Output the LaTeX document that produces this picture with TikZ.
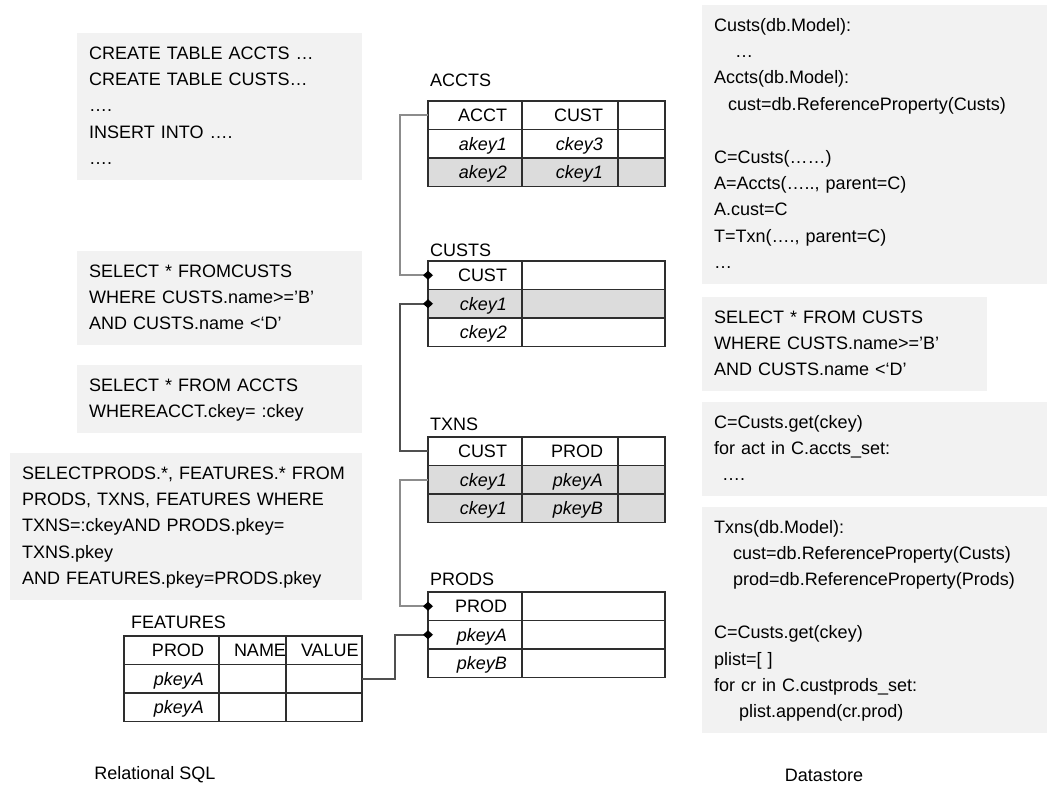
\documentclass[tikz,border=0pt]{standalone}
\usepackage{fontspec}
\setmainfont{Liberation Sans}
\usepackage{tikz}
\usetikzlibrary{positioning, arrows.meta}
\definecolor{boxgray}{HTML}{F2F2F2}
\definecolor{rowgray}{HTML}{DCDCDC}
\definecolor{gridline}{HTML}{2E2E2E}
\definecolor{linklight}{HTML}{8C8C8C}
\definecolor{linkdark}{HTML}{505050}

\begin{document}
\begin{tikzpicture}[
        x=1pt, y=-1pt,
        code/.style={fill=boxgray, anchor=north west, align=left, inner xsep=12pt, inner ysep=7.5pt,
          font=\fontsize{18}{26.4}\selectfont, execute at begin node=\strut, execute at end node=\strut},
        cell/.style={draw=gridline, line width=1.6pt, anchor=north west, outer sep=0pt, minimum height=28.5pt,
          inner xsep=15pt, inner ysep=0pt, align=right, text height=13pt, text depth=0pt,
          font=\fontsize{18}{21}\selectfont},
        cellw/.style 2 args={minimum width=#1pt, text width=#2pt},
        keyval/.style={font=\fontsize{18}{21}\selectfont\itshape},
        shaded/.style={fill=rowgray},
        tabtitle/.style={inner sep=0pt, anchor=south west, font=\fontsize{18}{21}\selectfont},
        link/.style={line width=1.6pt, linklight},
        darklink/.style={line width=1.6pt, linkdark},
        diamondend/.style={-{Diamond[length=10pt,width=9pt,color=black]}, shorten >=-5pt},
        diamondstart/.style={{Diamond[length=10pt,width=9pt,color=black]}-, shorten <=-5pt},
      ]
      \useasboundingbox (0,0) rectangle (1047,786);

      % relational side
      \node[code, text width=261pt] (sql-create) at (77,33) {CREATE TABLE ACCTS …\\
        CREATE TABLE CUSTS…\\ ….\\ INSERT INTO ….\\ ….};
      \node[code, text width=261pt] (sql-range) at (77,251) {SELECT * FROMCUSTS\\
        WHERE CUSTS.name>='B'\\ AND CUSTS.name <`D'};
      \node[code, text width=261pt] (sql-accts) at (77,365) {SELECT * FROM ACCTS\\
        WHEREACCT.ckey= :ckey};
      \node[code, text width=328pt] (sql-join) at (10,453) {SELECTPRODS.*, FEATURES.* FROM\\
        PRODS, TXNS, FEATURES WHERE\\ TXNS=:ckeyAND PRODS.pkey=\\ TXNS.pkey\\
        AND FEATURES.pkey=PRODS.pkey};

      % datastore side
      \node[code, text width=321pt] (ds-model) at (702,5) {Custs(db.Model):\\
        \hspace*{21pt}…\\ Accts(db.Model):\\ \hspace*{14pt}cust=db.ReferenceProperty(Custs)\\ \strut\\
        C=Custs(……)\\ A=Accts(….., parent=C)\\ A.cust=C\\ T=Txn(…., parent=C)\\ …};
      \node[code, text width=261pt] (ds-range) at (702,297) {SELECT * FROM CUSTS\\
        WHERE CUSTS.name>='B'\\ AND CUSTS.name <`D'};
      \node[code, text width=321pt] (ds-accts) at (702,402) {C=Custs.get(ckey)\\
        for act in C.accts\_set:\\ \hspace*{8pt}….};
      \node[code, text width=321pt] (ds-txns) at (702,507) {Txns(db.Model):\\
        \hspace*{19pt}cust=db.ReferenceProperty(Custs)\\ \hspace*{19pt}prod=db.ReferenceProperty(Prods)\\ \strut\\
        C=Custs.get(ckey)\\ plist=[ ]\\ for cr in C.custprods\_set:\\ \hspace*{25pt}plist.append(cr.prod)};

      % ACCTS
      \node[cell, cellw={94}{64}] (accts-h1) at (428,101) {ACCT};
      \node[cell, cellw={96}{66}] (accts-h2) at (accts-h1.north east) {CUST};
      \node[cell, cellw={47}{17}] (accts-h3) at (accts-h2.north east) {};
      \node[cell, cellw={94}{64}, keyval] (accts-r1c1) at (accts-h1.south west) {akey1};
      \node[cell, cellw={96}{66}, keyval] (accts-r1c2) at (accts-r1c1.north east) {ckey3};
      \node[cell, cellw={47}{17}] (accts-r1c3) at (accts-r1c2.north east) {};
      \node[cell, cellw={94}{64}, keyval, shaded] (accts-r2c1) at (accts-r1c1.south west) {akey2};
      \node[cell, cellw={96}{66}, keyval, shaded] (accts-r2c2) at (accts-r2c1.north east) {ckey1};
      \node[cell, cellw={47}{17}, shaded] (accts-r2c3) at (accts-r2c2.north east) {};
      \node[tabtitle, above right=14pt and 2pt of accts-h1.north west] (accts-title) {ACCTS};

      % CUSTS
      \node[cell, cellw={94}{64}] (custs-h1) at (428,261) {CUST};
      \node[cell, cellw={143}{113}] (custs-h2) at (custs-h1.north east) {};
      \node[cell, cellw={94}{64}, keyval, shaded] (custs-r1c1) at (custs-h1.south west) {ckey1};
      \node[cell, cellw={143}{113}, shaded] (custs-r1c2) at (custs-r1c1.north east) {};
      \node[cell, cellw={94}{64}, keyval] (custs-r2c1) at (custs-r1c1.south west) {ckey2};
      \node[cell, cellw={143}{113}] (custs-r2c2) at (custs-r2c1.north east) {};
      \node[tabtitle, above right=4pt and 2pt of custs-h1.north west] (custs-title) {CUSTS};

      % TXNS
      \node[cell, cellw={94}{64}] (txns-h1) at (428,437) {CUST};
      \node[cell, cellw={96}{66}] (txns-h2) at (txns-h1.north east) {PROD};
      \node[cell, cellw={47}{17}] (txns-h3) at (txns-h2.north east) {};
      \node[cell, cellw={94}{64}, keyval, shaded] (txns-r1c1) at (txns-h1.south west) {ckey1};
      \node[cell, cellw={96}{66}, keyval, shaded] (txns-r1c2) at (txns-r1c1.north east) {pkeyA};
      \node[cell, cellw={47}{17}, shaded] (txns-r1c3) at (txns-r1c2.north east) {};
      \node[cell, cellw={94}{64}, keyval, shaded] (txns-r2c1) at (txns-r1c1.south west) {ckey1};
      \node[cell, cellw={96}{66}, keyval, shaded] (txns-r2c2) at (txns-r2c1.north east) {pkeyB};
      \node[cell, cellw={47}{17}, shaded] (txns-r2c3) at (txns-r2c2.north east) {};
      \node[tabtitle, above right=6pt and 2pt of txns-h1.north west] (txns-title) {TXNS};

      % PRODS
      \node[cell, cellw={94}{64}] (prods-h1) at (428,592) {PROD};
      \node[cell, cellw={143}{113}] (prods-h2) at (prods-h1.north east) {};
      \node[cell, cellw={94}{64}, keyval] (prods-r1c1) at (prods-h1.south west) {pkeyA};
      \node[cell, cellw={143}{113}] (prods-r1c2) at (prods-r1c1.north east) {};
      \node[cell, cellw={94}{64}, keyval] (prods-r2c1) at (prods-r1c1.south west) {pkeyB};
      \node[cell, cellw={143}{113}] (prods-r2c2) at (prods-r2c1.north east) {};
      \node[tabtitle, above right=6pt and 2pt of prods-h1.north west] (prods-title) {PRODS};

      % FEATURES
      \node[cell, cellw={95}{65}] (features-h1) at (124,636) {PROD};
      \node[cell, cellw={67}{37}] (features-h2) at (features-h1.north east) {NAME};
      \node[cell, cellw={76}{46}] (features-h3) at (features-h2.north east) {VALUE};
      \node[cell, cellw={95}{65}, keyval] (features-r1c1) at (features-h1.south west) {pkeyA};
      \node[cell, cellw={67}{37}] (features-r1c2) at (features-r1c1.north east) {};
      \node[cell, cellw={76}{46}] (features-r1c3) at (features-r1c2.north east) {};
      \node[cell, cellw={95}{65}, keyval] (features-r2c1) at (features-r1c1.south west) {pkeyA};
      \node[cell, cellw={67}{37}] (features-r2c2) at (features-r2c1.north east) {};
      \node[cell, cellw={76}{46}] (features-r2c3) at (features-r2c2.north east) {};
      \node[tabtitle, above right=7pt and 7pt of features-h1.north west] (features-title) {FEATURES};

      % keys
      \draw[link, diamondend] (accts-h1.west) -- ++(-28,0) |- (custs-h1.west);
      \draw[darklink, diamondstart] (custs-r1c1.west) -- ++(-28,0) |- (txns-h1.west);
      \draw[link, diamondend] (txns-r1c1.west) -- ++(-28,0) |- (prods-h1.west);
      \draw[darklink, diamondend] (features-r1c3.east) -- ++(33,0) |- (prods-r1c1.west);

      \node[font=\fontsize{18}{21}\selectfont] (sql-label) at (155,775) {Relational SQL};
      \node[font=\fontsize{18}{21}\selectfont] (ds-label) at (824,775) {Datastore};
\end{tikzpicture}
\end{document}
